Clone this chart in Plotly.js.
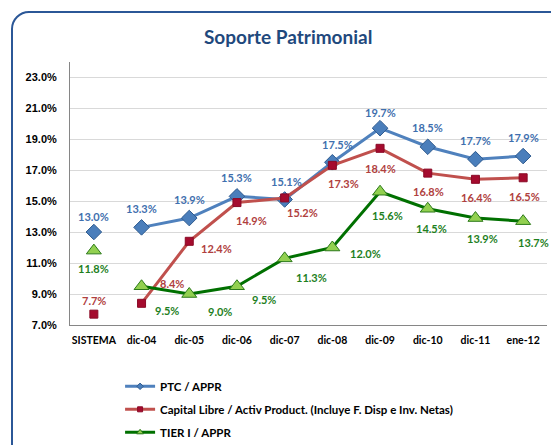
<!DOCTYPE html>
<html>
<head>
<meta charset="utf-8">
<script src="https://cdn.plot.ly/plotly-3.0.1.min.js"></script>
<style>
  html, body { margin:0; padding:0; background:#fff; overflow:hidden; }
  #chart { width:551px; height:445px; position:absolute; left:0; top:0; }
  #frame { position:absolute; left:11px; top:11px; width:600px; height:500px;
           border:2px solid #2B5797; border-radius:18px; pointer-events:none; box-sizing:border-box; }
</style>
</head>
<body>
<div id="chart"></div>
<div id="frame"></div>
<script>
const categories = ["SISTEMA","dic-04","dic-05","dic-06","dic-07","dic-08","dic-09","dic-10","dic-11","ene-12"];
const ptc     = [13.0, 13.3, 13.9, 15.3, 15.1, 17.5, 19.7, 18.5, 17.7, 17.9];
const capital = [7.7, 8.4, 12.4, 14.9, 15.2, 17.3, 18.4, 16.8, 16.4, 16.5];
const tier    = [11.8, 9.5, 9.0, 9.5, 11.3, 12.0, 15.6, 14.5, 13.9, 13.7];
const seriesNames = ["PTC / APPR", "Capital Libre / Activ Product. (Incluye F. Disp e Inv. Netas)", "TIER I / APPR"];

// label offsets in pixels (style only)
const ptcShift     = [[0,16],[0,19],[0,19],[0,19],[2,18],[5,18],[0,16],[0,19],[0,19],[0,19]];
const capitalShift = [[0,14],[30,20],[27,-7],[15,-18],[18,-15],[11,-18],[0,-20],[1,-18],[1,-18],[1,-19]];
const tierShift    = [[0,-18],[25,-24],[31,-17],[27,-13],[27,-19],[33,-6],[7,-24],[4,-20],[7,-20],[10,-21]];

const fmt = v => v.toFixed(1) + "%";
const lblFont = (c) => ({family:"Lato, 'Open Sans', sans-serif", size:11, color:c, weight:"bold"});

const styles = [
  {line:"#4F81BD", mk:{symbol:"diamond", size:12, color:"#4A7EBB", line:{color:"#2F5B8F", width:1}}, txt:"#3F6FAE", lmk:5},
  {line:"#C0504D", mk:{symbol:"square", size:8, color:"#A50B2E", line:{color:"#8A0A26", width:1}}, txt:"#B0403E", lmk:5},
  {line:"#007000", mk:{symbol:"triangle-up", size:13, color:"#92D050", line:{color:"#2C7A1A", width:1}}, txt:"#1E7F1E", lmk:6}
];
const datas = [ptc, capital, tier];
const shifts = [ptcShift, capitalShift, tierShift];

const traces = [];
const annotations = [];
datas.forEach((d, i) => {
  const s = styles[i];
  traces.push({
    type:"scatter", mode:"lines+markers", showlegend:false,
    x:categories.slice(1), y:d.slice(1),
    line:{color:s.line, width:3}, marker:s.mk, cliponaxis:false, hoverinfo:"skip"
  });
  traces.push({
    type:"scatter", mode:"markers", showlegend:false,
    x:[categories[0]], y:[d[0]],
    marker:s.mk, cliponaxis:false, hoverinfo:"skip"
  });
  d.forEach((v, j) => {
    annotations.push({x:categories[j], y:v, xref:"x", yref:"y", text:fmt(v), showarrow:false,
      xshift:shifts[i][j][0], yshift:shifts[i][j][1], font:lblFont(s.txt)});
  });
});
// legend entries (small markers like the reference)
datas.forEach((d, i) => {
  const s = styles[i];
  traces.push({
    type:"scatter", mode:"lines+markers", name:seriesNames[i], legendgroup:"g"+i,
    x:[null], y:[null],
    line:{color:s.line, width:3},
    marker:Object.assign({}, s.mk, {size:s.lmk})
  });
});

const layout = {
  width:551, height:445,
  margin:{l:70, r:4, t:62, b:120, autoexpand:false},
  paper_bgcolor:"#ffffff", plot_bgcolor:"#ffffff",
  title:{text:"Soporte Patrimonial", xref:"container", x:0.523, yref:"container", y:0.917, yanchor:"middle",
         font:{family:"Lato, 'Open Sans', sans-serif", size:19, color:"#1F497D", weight:"bold"}},
  annotations: annotations,
  xaxis:{type:"category", categoryorder:"array", categoryarray:categories, range:[-0.5, 9.5],
         showgrid:false, showline:true, linecolor:"#868686", linewidth:1, ticks:"", ticklabelstandoff:5,
         tickfont:{family:"Lato, 'Open Sans', sans-serif", size:10.5, color:"#000", weight:"bold"}, fixedrange:true},
  yaxis:{range:[7, 23.97], tickvals:[7,9,11,13,15,17,19,21,23], ticktext:["7.0%","9.0%","11.0%","13.0%","15.0%","17.0%","19.0%","21.0%","23.0%"],
         showgrid:true, gridcolor:"#D9D9D9", gridwidth:1, showline:true, linecolor:"#868686", linewidth:1,
         zeroline:false, ticks:"", ticklabelstandoff:10,
         tickfont:{family:"'Liberation Sans', Arial, sans-serif", size:11, color:"#000", weight:"bold"}, fixedrange:true},
  showlegend:true,
  legend:{x:0.105, xanchor:"left", y:-0.178, yanchor:"top", orientation:"v", traceorder:"grouped", tracegroupgap:4,
          font:{family:"Lato, 'Open Sans', sans-serif", size:11.5, color:"#000", weight:"bold"}, bgcolor:"rgba(0,0,0,0)"}
};

Plotly.newPlot("chart", traces, layout, {displayModeBar:false, staticPlot:true});
</script>
</body>
</html>
